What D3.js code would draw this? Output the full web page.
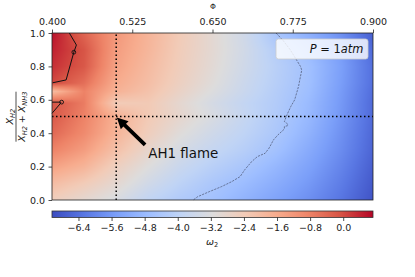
<!DOCTYPE html>
<html><head><meta charset="utf-8">
<script src="https://cdn.jsdelivr.net/npm/d3@7"></script>
<style>
html,body{margin:0;padding:0;background:#fff;}
svg{display:block;font-family:"DejaVu Sans",sans-serif;}
</style></head><body>
<svg id="chart" width="415" height="277"></svg>
<script>
// ---------------- data ----------------
const phiValues   = [0.40, 0.45, 0.50, 0.55, 0.60, 0.65, 0.70, 0.75, 0.80, 0.85, 0.90];
const h2Fractions = [0.0, 0.1, 0.2, 0.3, 0.4, 0.5, 0.58, 0.65, 0.7, 0.8, 0.9, 1.0];
// omega_2 values, one row per H2 fraction, one column per phi
const omegaGrid = [
  [-2.5, -2.9, -3.3, -3.9, -4.3, -4.6, -5.0, -5.4, -5.8, -6.3, -6.9],
  [-2.0, -2.4, -2.9, -3.5, -4.0, -4.4, -4.75, -5.15, -5.6, -6.15, -6.8],
  [-1.4, -1.8, -2.55, -3.15, -3.7, -4.1, -4.45, -4.9, -5.4, -6.0, -6.7],
  [-0.8, -1.3, -2.1, -2.8, -3.4, -3.8, -4.15, -4.6, -5.2, -5.85, -6.6],
  [-0.4, -0.95, -1.8, -2.5, -3.1, -3.55, -3.95, -4.4, -5.0, -5.75, -6.55],
  [-0.15, -0.8, -1.7, -2.35, -2.85, -3.3, -3.8, -4.3, -4.85, -5.65, -6.5],
  [-0.1, -0.7, -2.4, -2.35, -2.9, -3.4, -3.85, -4.25, -4.8, -5.6, -6.5],
  [-2.0, -0.8, -1.75, -2.15, -2.7, -3.2, -3.7, -4.2, -4.7, -5.55, -6.45],
  [0.05, -0.5, -1.6, -2.05, -2.6, -3.1, -3.65, -4.15, -4.65, -5.5, -6.4],
  [0.3, -0.15, -1.4, -1.95, -2.5, -3.0, -3.55, -4.1, -4.62, -5.45, -6.4],
  [0.45, -0.1, -1.3, -1.85, -2.45, -2.95, -3.5, -4.2, -4.8, -5.55, -6.5],
  [0.6, -0.35, -1.2, -1.8, -2.4, -2.95, -3.55, -4.5, -5.1, -5.8, -6.7]
];
const phiTicks  = [0.400, 0.525, 0.650, 0.775, 0.900];
const fracTicks = [0.0, 0.2, 0.4, 0.6, 0.8, 1.0];
const cbarTicks = [-6.4, -5.6, -4.8, -4.0, -3.2, -2.4, -1.6, -0.8, 0.0];
const cbarDomain = [-7.04, 0.72];
const coolwarm = ['#3b4cc0','#5977e3','#7b9ff9','#9ebeff','#c0d4f5','#dddcdc',
                  '#f2cbb7','#f7ac8e','#ee8468','#d65244','#b40426'];
// contour lines, [phi, fraction]
const zeroContourMain  = [[0.427,1.0],[0.438,0.928],[0.434,0.885],[0.422,0.719],[0.401,0.702]];
const zeroContourSmall = [[0.400,0.586],[0.413,0.586],[0.414,0.582],[0.400,0.519]];
const contourLoops     = [[0.434,0.885],[0.415,0.586]];
const dashedContour = [[0.749,1.0],[0.760,0.955],[0.771,0.90],[0.781,0.838],[0.787,0.80],[0.789,0.778],
  [0.786,0.72],[0.784,0.68],[0.778,0.60],[0.772,0.56],[0.766,0.51],[0.762,0.47],[0.767,0.455],
  [0.767,0.445],[0.762,0.44],[0.762,0.425],[0.752,0.39],[0.745,0.36],[0.738,0.31],[0.732,0.28],
  [0.720,0.26],[0.711,0.23],[0.700,0.18],[0.693,0.14],[0.680,0.11],[0.664,0.08],[0.645,0.05],
  [0.627,0.02],[0.620,0.0]];
const crossPoint  = [0.5, 0.5];
const arrowTail   = [0.545, 0.33];
const annotPos    = [0.55, 0.25];
const annotText   = "AH1 flame";

// ---------------- layout ----------------
const svg = d3.select("#chart");
const X0 = 52, X1 = 373, Y0 = 33, Y1 = 200;
const x = d3.scaleLinear().domain([0.4, 0.9]).range([X0, X1]);
const y = d3.scaleLinear().domain([0, 1]).range([Y1, Y0]);
const cstops = d3.range(coolwarm.length).map(i => cbarDomain[0] + (cbarDomain[1]-cbarDomain[0]) * i/(coolwarm.length-1));
const color = d3.scaleLinear().domain(cstops).range(coolwarm).interpolate(d3.interpolateRgb).clamp(true);

// field sampling (bilinear rendering of the grid)
function field(p, f) {
  let i = Math.max(0, Math.min(phiValues.length-2, d3.bisectRight(phiValues, p)-1));
  let j = Math.max(0, Math.min(h2Fractions.length-2, d3.bisectRight(h2Fractions, f)-1));
  const tx = Math.max(0, Math.min(1, (p-phiValues[i])/(phiValues[i+1]-phiValues[i])));
  const ty = Math.max(0, Math.min(1, (f-h2Fractions[j])/(h2Fractions[j+1]-h2Fractions[j])));
  const a = omegaGrid[j][i], b = omegaGrid[j][i+1], c = omegaGrid[j+1][i], d = omegaGrid[j+1][i+1];
  return (a*(1-tx)+b*tx)*(1-ty) + (c*(1-tx)+d*tx)*ty;
}
const W = X1 - X0, H = Y1 - Y0;
const canvas = document.createElement("canvas");
canvas.width = W; canvas.height = H;
const ctx = canvas.getContext("2d");
const img = ctx.createImageData(W, H);
for (let r = 0; r < H; r++) {
  const f = y.invert(Y0 + r + 0.5);
  for (let c = 0; c < W; c++) {
    const p = x.invert(X0 + c + 0.5);
    const col = d3.rgb(color(field(p, f)));
    const k = (r*W + c)*4;
    img.data[k] = col.r; img.data[k+1] = col.g; img.data[k+2] = col.b; img.data[k+3] = 255;
  }
}
ctx.putImageData(img, 0, 0);
svg.append("image").attr("x", X0).attr("y", Y0).attr("width", W).attr("height", H)
  .attr("preserveAspectRatio", "none").attr("href", canvas.toDataURL());

// contours
const line = d3.line().x(d => x(d[0])).y(d => y(d[1]));
svg.append("path").attr("d", line(zeroContourMain)).attr("fill", "none").attr("stroke", "#111").attr("stroke-width", 1);
svg.append("path").attr("d", line(zeroContourSmall)).attr("fill", "none").attr("stroke", "#111").attr("stroke-width", 1);
svg.selectAll("circle.loop").data(contourLoops).join("circle").attr("class", "loop")
  .attr("cx", d => x(d[0])).attr("cy", d => y(d[1])).attr("r", 1.9)
  .attr("fill", "none").attr("stroke", "#111").attr("stroke-width", 0.9);
svg.append("path").attr("d", line(dashedContour)).attr("fill", "none").attr("stroke", "#3a3f55")
  .attr("stroke-width", 0.7).attr("stroke-opacity", 0.85).attr("stroke-dasharray", "2.2,1.1");

// crosshair
svg.append("line").attr("x1", x(0.4)).attr("x2", x(0.9)).attr("y1", y(crossPoint[1])).attr("y2", y(crossPoint[1]))
  .attr("stroke", "#000").attr("stroke-width", 1.5).attr("stroke-dasharray", "1.5,2.5");
svg.append("line").attr("x1", x(crossPoint[0])).attr("x2", x(crossPoint[0])).attr("y1", y(0)).attr("y2", y(1))
  .attr("stroke", "#000").attr("stroke-width", 1.5).attr("stroke-dasharray", "1.5,2.5");

// arrow
(function(){
  const tx = x(crossPoint[0]) + 0.6, ty = y(crossPoint[1]) + 1.0;
  const sx = x(arrowTail[0]), sy = y(arrowTail[1]);
  const L = Math.hypot(tx-sx, ty-sy), ux = (tx-sx)/L, uy = (ty-sy)/L, nx = -uy, ny = ux;
  const sw = 1.9, hw = 5.6, hl = 11;
  const bx = tx - ux*hl, by = ty - uy*hl;
  const pts = [[sx+nx*sw, sy+ny*sw],[bx+nx*sw, by+ny*sw],[bx+nx*hw, by+ny*hw],[tx,ty],
               [bx-nx*hw, by-ny*hw],[bx-nx*sw, by-ny*sw],[sx-nx*sw, sy-ny*sw]];
  svg.append("polygon").attr("points", pts.map(p => p.join(",")).join(" ")).attr("fill", "#000");
})();
svg.append("text").attr("x", x(annotPos[0])).attr("y", y(annotPos[1])).attr("font-size", 13.4)
  .attr("fill", "#111").text(annotText);

// legend box
svg.append("rect").attr("x", 276).attr("y", 39).attr("width", 92).attr("height", 20).attr("rx", 2.5)
  .attr("fill", "#fff").attr("fill-opacity", 0.8).attr("stroke", "#ccc").attr("stroke-width", 0.8);
const lt = svg.append("text").attr("x", 363.3).attr("y", 52.6).attr("text-anchor", "end").attr("font-size", 11.4).attr("fill", "#111");
lt.append("tspan").attr("font-style", "italic").text("P");
lt.append("tspan").text(" = 1");
lt.append("tspan").attr("font-style", "italic").text("atm");

// axes frame
svg.append("rect").attr("x", X0).attr("y", Y0).attr("width", W).attr("height", H)
  .attr("fill", "none").attr("stroke", "#222").attr("stroke-width", 0.8);

const gTop = svg.append("g").attr("transform", `translate(0,${Y0})`)
  .call(d3.axisTop(x).tickValues(phiTicks).tickFormat(d3.format(".3f")).tickSize(3.5).tickPadding(4.5));
const gLeft = svg.append("g").attr("transform", `translate(${X0},0)`)
  .call(d3.axisLeft(y).tickValues(fracTicks).tickFormat(d3.format(".1f")).tickSize(3.5).tickPadding(3.5));
[gTop, gLeft].forEach(g => {
  g.select(".domain").remove();
  g.selectAll("line").attr("stroke", "#222").attr("stroke-width", 0.8);
  g.selectAll("text").attr("font-size", 9.5).attr("fill", "#222").attr("font-family", '"DejaVu Sans",sans-serif');
});

svg.append("text").attr("x", 213).attr("y", 9.4).attr("text-anchor", "middle").attr("font-size", 7.5).attr("fill", "#222").text("Φ");

// y label as fraction
const yl = svg.append("g").attr("transform", "translate(16,116.7) rotate(-90)").attr("fill", "#222");
const num = yl.append("text").attr("x", 0).attr("y", -2.6).attr("text-anchor", "middle").attr("font-size", 9.5).attr("font-style", "italic");
num.append("tspan").text("X");
num.append("tspan").attr("font-size", 6.6).attr("dy", 2).text("H2");
const den = yl.append("text").attr("x", 0).attr("y", 8.8).attr("text-anchor", "middle").attr("font-size", 9.5).attr("font-style", "italic");
den.append("tspan").text("X");
den.append("tspan").attr("font-size", 6.6).attr("dy", 2).text("H2");
den.append("tspan").attr("dy", -2).attr("font-style", "normal").text(" + ");
den.append("tspan").text("X");
den.append("tspan").attr("font-size", 6.6).attr("dy", 2).text("NH3");
yl.append("line").attr("x1", -25).attr("x2", 25).attr("y1", 0).attr("y2", 0).attr("stroke", "#222").attr("stroke-width", 0.8);

// colorbar
const CB0 = 211, CB1 = 217.5;
const cx = d3.scaleLinear().domain(cbarDomain).range([X0, X1]);
const defs = svg.append("defs");
const grad = defs.append("linearGradient").attr("id", "cbgrad").attr("x1", "0%").attr("x2", "100%").attr("y1", "0%").attr("y2", "0%");
grad.selectAll("stop").data(d3.range(0, 1.0001, 0.02)).join("stop")
  .attr("offset", d => (d*100) + "%")
  .attr("stop-color", d => color(cbarDomain[0] + d*(cbarDomain[1]-cbarDomain[0])));
svg.append("rect").attr("x", X0).attr("y", CB0).attr("width", W).attr("height", CB1-CB0)
  .attr("fill", "url(#cbgrad)").attr("stroke", "#333").attr("stroke-width", 0.8);
const gCb = svg.append("g").attr("transform", `translate(0,${CB1})`)
  .call(d3.axisBottom(cx).tickValues(cbarTicks).tickFormat(d3.format(".1f")).tickSize(3.5).tickPadding(3.5));
gCb.select(".domain").remove();
gCb.selectAll("line").attr("stroke", "#222").attr("stroke-width", 0.8);
gCb.selectAll("text").attr("font-size", 9.5).attr("fill", "#222").attr("font-family", '"DejaVu Sans",sans-serif');

const wl = svg.append("text").attr("x", 212).attr("y", 245).attr("text-anchor", "middle").attr("font-size", 9.5).attr("fill", "#222").attr("font-style", "italic");
wl.append("tspan").text("ω");
wl.append("tspan").attr("font-size", 6.6).attr("dy", 1.8).attr("font-style", "normal").text("2");
</script>
</body></html>
